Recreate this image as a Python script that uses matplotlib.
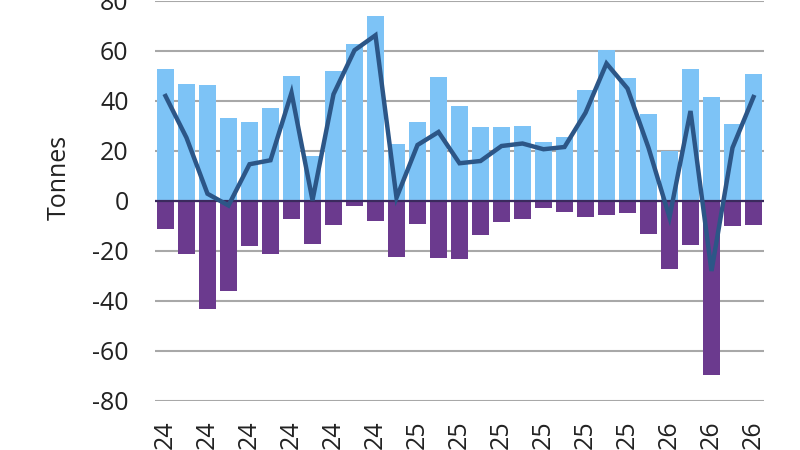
import matplotlib
matplotlib.use("Agg")
import matplotlib.pyplot as plt
import numpy as np

plt.rcParams['font.family'] = ['Open Sans', 'DejaVu Sans']

# Monthly data, Jan 2024 .. May 2026; the visible tick text is the two-digit year
years = ["24"] * 12 + ["25"] * 12 + ["26"] * 5

positive = [52.7, 46.9, 46.3, 33.3, 31.7, 37.3, 50.0, 18.0, 52.0, 62.7, 74.0, 22.9,
            31.7, 49.6, 37.9, 29.6, 29.6, 30.0, 23.7, 25.6, 44.3, 60.3, 49.3, 34.7,
            20.0, 52.7, 41.6, 30.7, 50.7]

negative = [-11.0, -21.0, -43.3, -36.0, -18.0, -21.3, -7.3, -17.3, -9.7, -2.0, -8.0, -22.3,
            -9.3, -22.7, -23.3, -13.6, -8.4, -7.3, -2.9, -4.3, -6.3, -5.7, -4.7, -13.3,
            -27.3, -17.6, -69.7, -10.0, -9.7]

net = [42.0, 25.3, 2.9, -1.8, 14.7, 16.3, 43.3, 0.3, 42.7, 60.3, 66.3, 1.3,
       22.4, 27.6, 15.1, 16.0, 22.0, 23.0, 20.7, 21.6, 35.3, 55.0, 45.0, 21.3,
       -6.5, 36.0, -28.0, 21.3, 41.6]

yticks = [-80, -60, -40, -20, 0, 20, 40, 60, 80]

fig = plt.figure(figsize=(8, 4.5), dpi=100)
ax = fig.add_axes([155/800, 1 - 401/450, 609/800, 400/450])

x = np.arange(len(years))
ax.bar(x, positive, width=0.85, color="#7DC3F6", zorder=2)
ax.bar(x, negative, width=0.85, color="#6B3A8E", zorder=2)
ax.axhline(0, color="#3B2A5E", lw=1.6, zorder=3)
ax.plot(x, net, color="#2C5687", lw=3.2, zorder=4, solid_joinstyle="miter")

ax.set_xlim(-0.5, len(years) - 0.5)
ax.set_ylim(-80, 80)
ax.set_yticks(yticks)
ax.set_yticklabels([str(v) for v in yticks])
ax.yaxis.grid(True, color="#A8A8A8", lw=1.5, zorder=0)
ax.set_axisbelow(True)
for s in ax.spines.values():
    s.set_visible(False)

ax.set_xticks(x[::2])
ax.set_xticklabels(years[::2], rotation=90, va="top", ha="center")
ax.tick_params(axis="x", length=0, pad=14, labelsize=18, colors="#222222")
ax.tick_params(axis="y", length=0, pad=19, labelsize=18, colors="#222222")

ax.set_ylabel("Tonnes", fontsize=18, color="#222222")
ax.yaxis.set_label_coords(-0.137, 0.56)

fig.savefig("out.png", dpi=100)
